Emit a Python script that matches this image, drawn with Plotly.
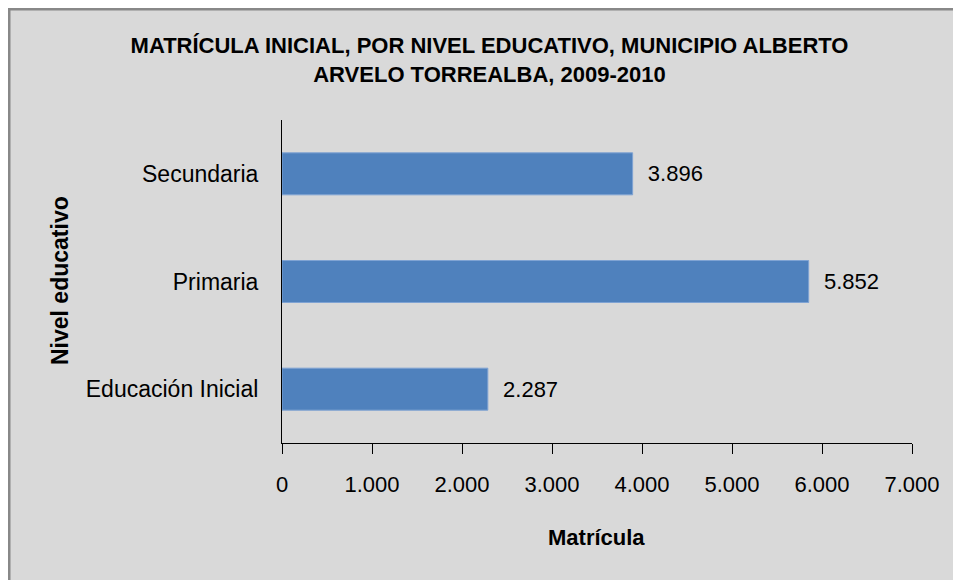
import plotly.graph_objects as go

# datos
niveles = ["Educación Inicial", "Primaria", "Secundaria"]
matricula = [2287, 5852, 3896]
ticks_x = [0, 1000, 2000, 3000, 4000, 5000, 6000, 7000]

FONT = "Liberation Sans, Arial, sans-serif"

# la página deja 8px de margen, por eso la figura es 953x572
W, H = 953, 572
L, T = 274, 112
PW, PH = 630, 323

fig = go.Figure(go.Bar(
    x=matricula, y=niveles, orientation="h",
    marker=dict(color="#4F81BD", line=dict(color="#7FA3D3", width=1)),
    texttemplate="\u00a0\u00a0%{x:,}", textposition="outside",
    textfont=dict(size=22, color="black", family=FONT),
    cliponaxis=False,
))

fig.update_layout(
    width=W, height=H,
    margin=dict(l=L, r=W - L - PW, t=T, b=H - T - PH),
    paper_bgcolor="white", plot_bgcolor="rgba(0,0,0,0)",
    separators=",.",
    font=dict(family=FONT, color="black", size=22),
    bargap=0.61,
    showlegend=False,
    title=dict(
        text="<b>MATRÍCULA INICIAL, POR NIVEL EDUCATIVO, MUNICIPIO ALBERTO<br>ARVELO TORREALBA, 2009-2010</b>",
        x=481.5 / W, xref="container", xanchor="center",
        y=1 - 45 / H, yref="container", yanchor="middle",
        font=dict(size=22, family=FONT, color="black"),
    ),
    xaxis=dict(
        range=[0, 7000], tickvals=ticks_x, tickformat=",",
        showline=True, linecolor="black", linewidth=1,
        ticks="outside", ticklen=10, tickcolor="black",
        showgrid=False, zeroline=False, fixedrange=True,
        ticklabelstandoff=12, tickfont=dict(size=22),
    ),
    yaxis=dict(
        showline=True, linecolor="black", linewidth=1,
        ticks="", showgrid=False, ticklabelstandoff=18,
        tickfont=dict(size=23), fixedrange=True,
    ),
    shapes=[dict(
        type="rect", xref="paper", yref="paper", layer="below",
        x0=(1 - L) / PW, x1=(W + 10 - L) / PW,
        y0=(T + PH - H - 10) / PH, y1=(T + PH - 1) / PH,
        fillcolor="#D9D9D9", line=dict(color="#888888", width=3),
    )],
    annotations=[
        dict(text="<b>Matrícula</b>", xref="paper", yref="paper",
             x=(588 - L) / PW, y=(T + PH - 529) / PH,
             xanchor="center", yanchor="middle",
             showarrow=False, font=dict(size=22, family=FONT)),
        dict(text="<b>Nivel educativo</b>", xref="paper", yref="paper",
             x=(52 - L) / PW, y=(T + PH - 272) / PH, textangle=-90,
             xanchor="center", yanchor="middle",
             showarrow=False, font=dict(size=23, family=FONT)),
    ],
)

fig.write_html("out.html")
